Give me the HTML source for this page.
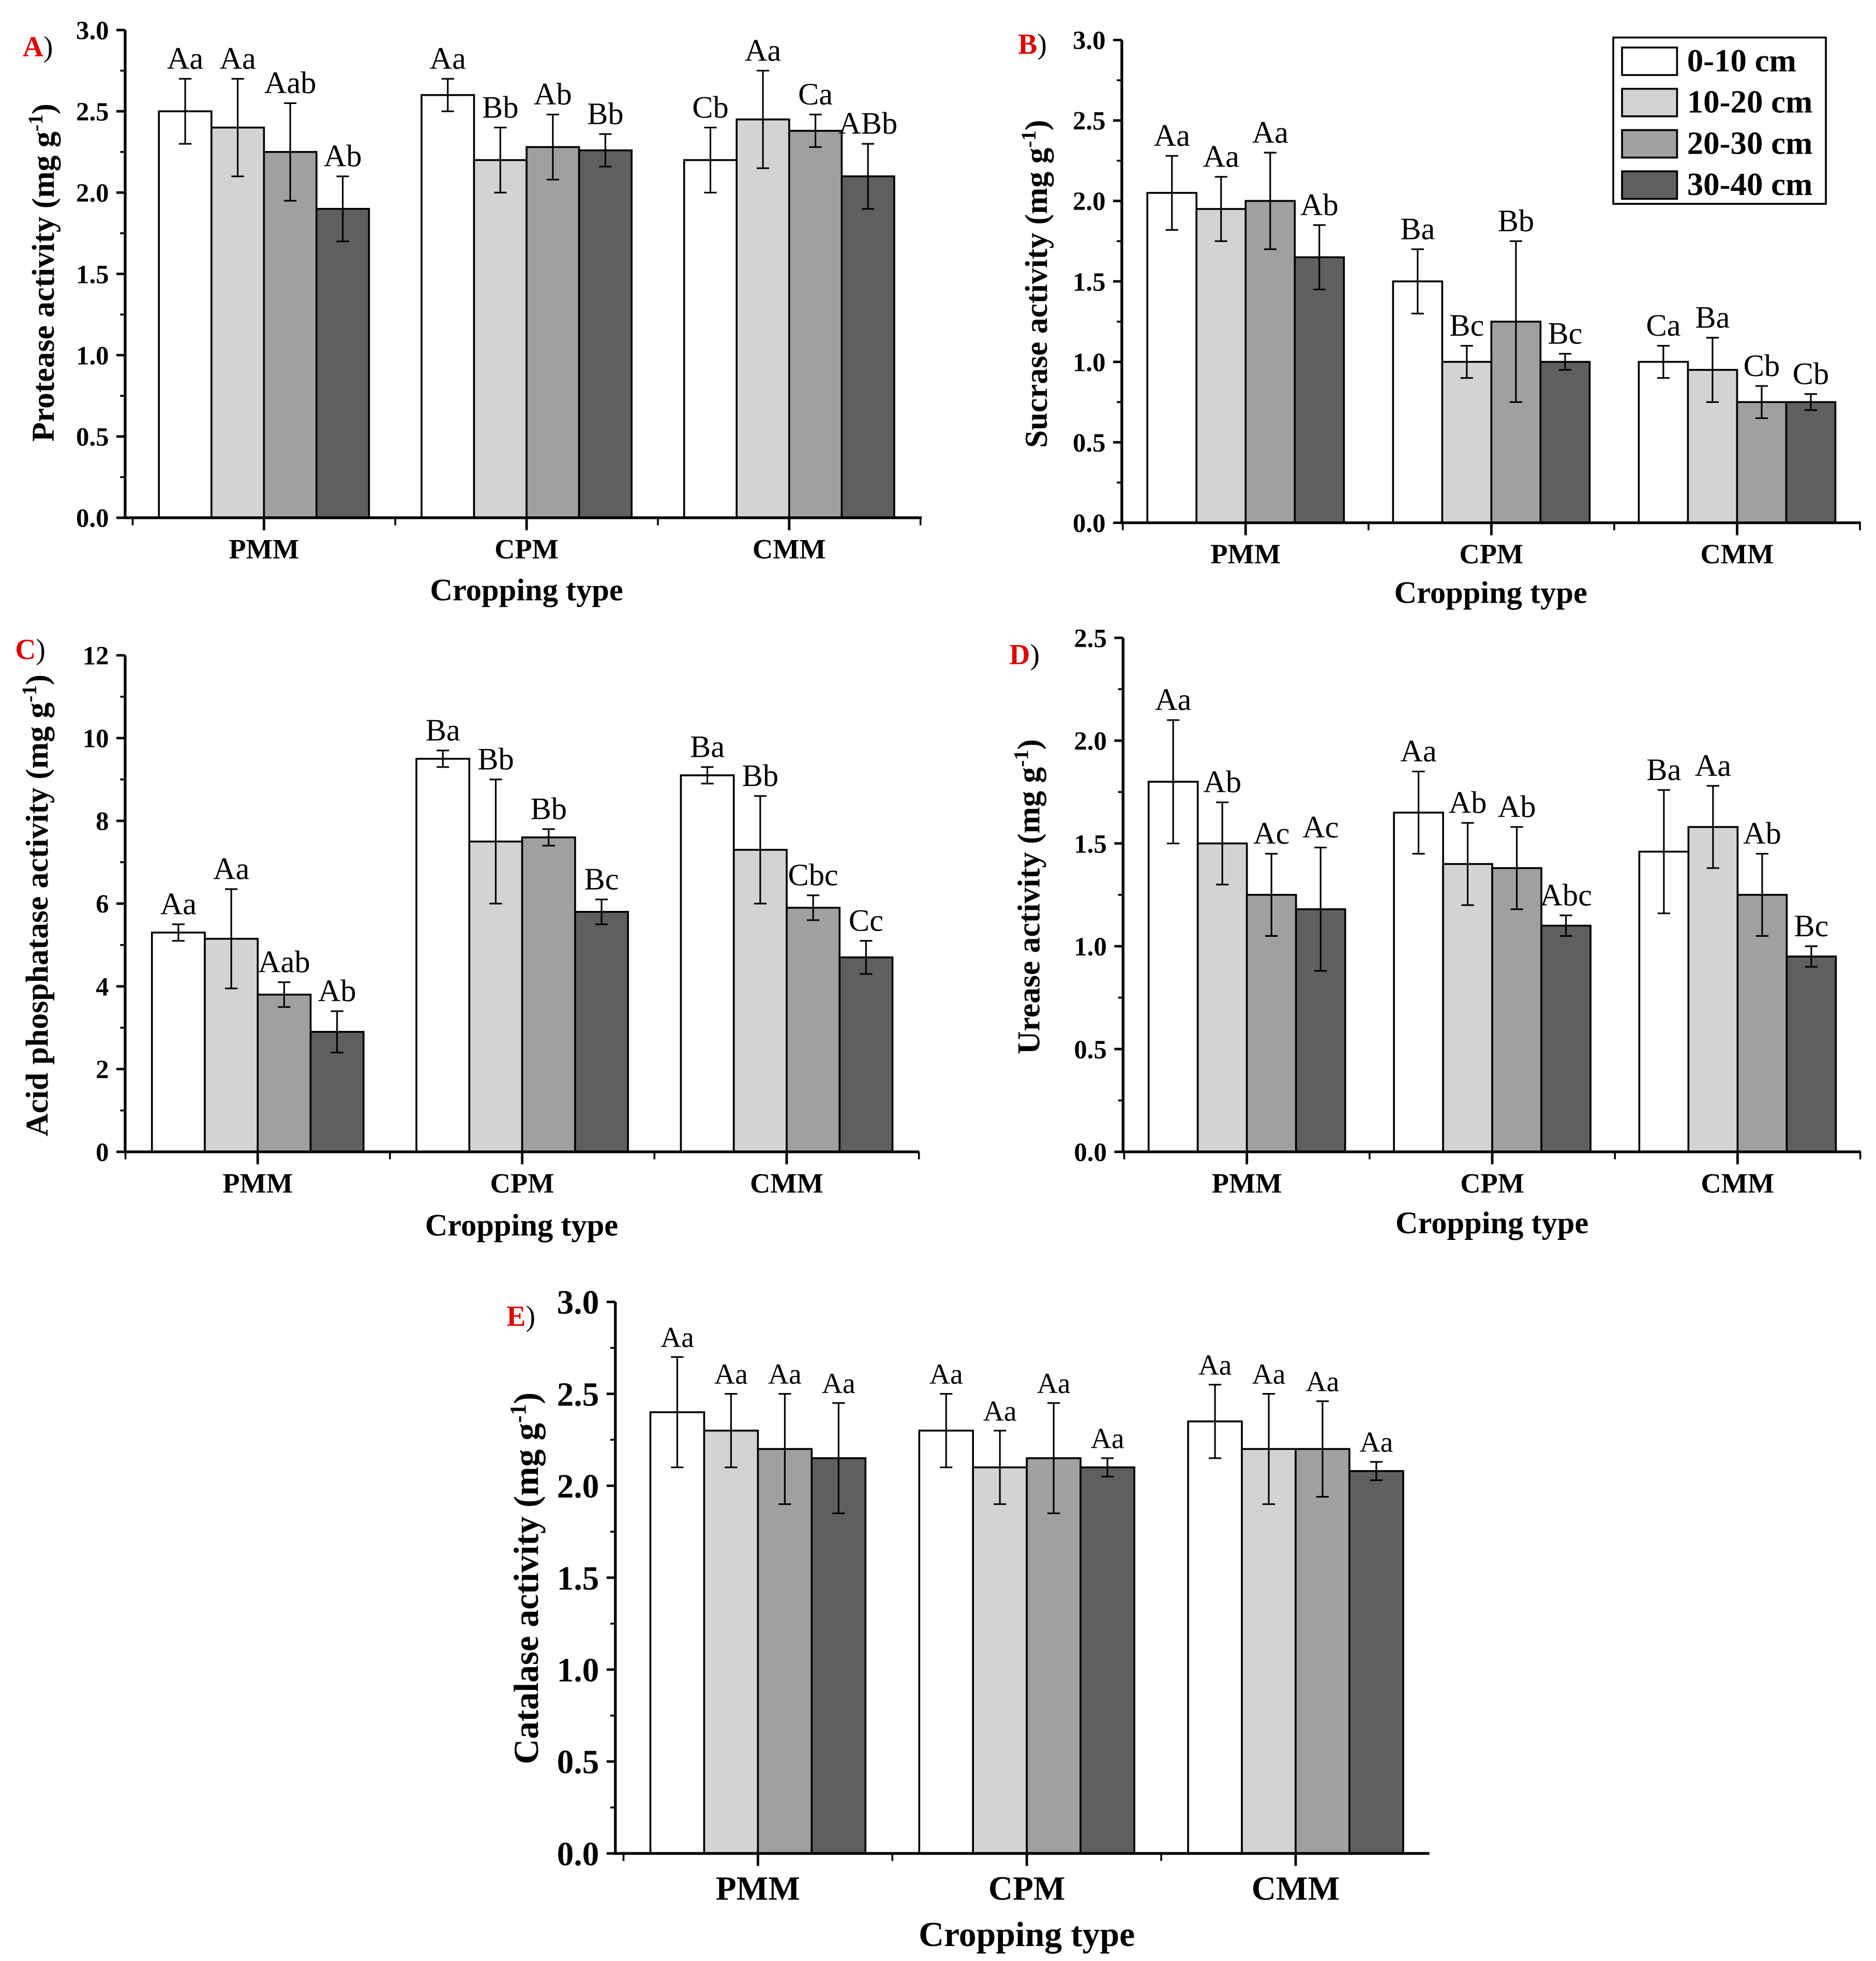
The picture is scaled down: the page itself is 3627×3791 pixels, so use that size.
<!DOCTYPE html>
<html><head><meta charset="utf-8"><title>Soil enzyme activities</title>
<style>
html,body{margin:0;padding:0;background:#fff;}
svg{display:block;font-family:"Liberation Serif",serif;}
</style></head>
<body>
<svg id="fig" xmlns="http://www.w3.org/2000/svg" width="3627" height="3791" viewBox="0 0 1500 1568"></svg>
<script>
const categories = ["PMM","CPM","CMM"];
const depths = ["0-10 cm","10-20 cm","20-30 cm","30-40 cm"];
const colors = ["#ffffff","#d3d3d3","#a0a0a0","#5f5f5f"];

// Panel A - Protease
const protMean = [[2.5,2.4,2.25,1.9],[2.6,2.2,2.28,2.26],[2.2,2.45,2.38,2.1]];
const protErr  = [[0.2,0.3,0.3,0.2],[0.1,0.2,0.2,0.1],[0.2,0.3,0.1,0.2]];
const protLab  = [["Aa","Aa","Aab","Ab"],["Aa","Bb","Ab","Bb"],["Cb","Aa","Ca","ABb"]];
const protTicks = ["0.0","0.5","1.0","1.5","2.0","2.5","3.0"];

// Panel B - Sucrase
const sucMean = [[2.05,1.95,2.0,1.65],[1.5,1.0,1.25,1.0],[1.0,0.95,0.75,0.75]];
const sucErr  = [[0.23,0.2,0.3,0.2],[0.2,0.1,0.5,0.05],[0.1,0.2,0.1,0.05]];
const sucLab  = [["Aa","Aa","Aa","Ab"],["Ba","Bc","Bb","Bc"],["Ca","Ba","Cb","Cb"]];
const sucTicks = ["0.0","0.5","1.0","1.5","2.0","2.5","3.0"];

// Panel C - Acid phosphatase
const phosMean = [[5.3,5.15,3.8,2.9],[9.5,7.5,7.6,5.8],[9.1,7.3,5.9,4.7]];
const phosErr  = [[0.2,1.2,0.3,0.5],[0.2,1.5,0.2,0.3],[0.2,1.3,0.3,0.4]];
const phosLab  = [["Aa","Aa","Aab","Ab"],["Ba","Bb","Bb","Bc"],["Ba","Bb","Cbc","Cc"]];
const phosTicks = ["0","2","4","6","8","10","12"];

// Panel D - Urease
const ureMean = [[1.8,1.5,1.25,1.18],[1.65,1.4,1.38,1.1],[1.46,1.58,1.25,0.95]];
const ureErr  = [[0.3,0.2,0.2,0.3],[0.2,0.2,0.2,0.05],[0.3,0.2,0.2,0.05]];
const ureLab  = [["Aa","Ab","Ac","Ac"],["Aa","Ab","Ab","Abc"],["Ba","Aa","Ab","Bc"]];
const ureTicks = ["0.0","0.5","1.0","1.5","2.0","2.5"];

// Panel E - Catalase
const catMean = [[2.4,2.3,2.2,2.15],[2.3,2.1,2.15,2.1],[2.35,2.2,2.2,2.08]];
const catErr  = [[0.3,0.2,0.3,0.3],[0.2,0.2,0.3,0.05],[0.2,0.3,0.26,0.05]];
const catLab  = [["Aa","Aa","Aa","Aa"],["Aa","Aa","Aa","Aa"],["Aa","Aa","Aa","Aa"]];
const catTicks = ["0.0","0.5","1.0","1.5","2.0","2.5","3.0"];

const NS = "http://www.w3.org/2000/svg";
const svg = document.getElementById("fig");
function mk(tag, attrs, parent){
  const e = document.createElementNS(NS, tag);
  for (const k in attrs) e.setAttribute(k, attrs[k]);
  (parent||svg).appendChild(e);
  return e;
}

function panel(cfg){
  const g = mk("g", {});
  
  
  const ticks = cfg.ticks.map(Number);
  const ymax = ticks[ticks.length-1];
  const y = v => cfg.y0 - (v/ymax)*(cfg.y0 - cfg.yTop);
  const xc = i => cfg.c0 + i*cfg.sp;
  const bw = cfg.bw;
  cfg.mean.forEach((grp, i) => {
    grp.forEach((v, j) => {
      const x = xc(i) - 2*bw + j*bw;
      const r = mk("rect", {x:x, y:y(v), width:bw, height:cfg.y0 - y(v), fill:colors[j], stroke:"#000", "stroke-width":1.5}, g);
      
      
      const cx = x + bw/2, e = cfg.err[i][j];
      const eb = mk("path", {d:`M${cx},${y(v+e)}V${y(v-e)}M${cx-5},${y(v+e)}H${cx+5}M${cx-5},${y(v-e)}H${cx+5}`, stroke:"#000", "stroke-width":1.3, fill:"none"}, g);
      
      
      const t = mk("text", {x:cx, y:y(v+e)-8, "text-anchor":"middle", "font-size":cfg.lfs}, g);
      t.textContent = cfg.lab[i][j];
      
      
    });
  });
  const ax = mk("path", {d:`M${cfg.x0},${cfg.yTop}V${cfg.y0}H${cfg.x1}`, stroke:"#000", "stroke-width":2.2, fill:"none"}, g);
  
  
  ticks.forEach((v, k) => {
    mk("line", {x1:cfg.x0-7, x2:cfg.x0, y1:y(v), y2:y(v), stroke:"#000", "stroke-width":2}, g);
    if (k < ticks.length-1) {
      const m = (v + ticks[k+1])/2;
      mk("line", {x1:cfg.x0-4, x2:cfg.x0, y1:y(m), y2:y(m), stroke:"#000", "stroke-width":1.5}, g);
    }
    const t = mk("text", {x:cfg.x0-13, y:y(v)+cfg.tfs*0.35, "text-anchor":"end", "font-size":cfg.tfs, "font-weight":"bold"}, g);
    t.textContent = cfg.ticks[k];
    
    
  });
  for (let i = 0; i <= 3; i++) {
    const bx = xc(i) - cfg.sp/2;
    if (bx > cfg.x0 && bx < cfg.x1) mk("line", {x1:bx, x2:bx, y1:cfg.y0, y2:cfg.y0+6, stroke:"#000", "stroke-width":1.5}, g);
  }
  categories.forEach((c, i) => {
    mk("line", {x1:xc(i), x2:xc(i), y1:cfg.y0, y2:cfg.y0+10, stroke:"#000", "stroke-width":2}, g);
    const t = mk("text", {x:xc(i), y:cfg.y0+cfg.cfs+10, "text-anchor":"middle", "font-size":cfg.cfs, "font-weight":"bold"}, g);
    t.textContent = c;
    
    
  });
  const xt = mk("text", {x:cfg.xtX, y:cfg.xtY, "text-anchor":"middle", "font-size":cfg.xfs, "font-weight":"bold"}, g);
  xt.textContent = "Cropping type";
  
  
  const yt = mk("text", {x:0, y:0, "text-anchor":"middle", "font-size":cfg.yfs, "font-weight":"bold", transform:`translate(${cfg.ytX},${cfg.ytY}) rotate(-90)`}, g);
  yt.innerHTML = cfg.ytitle + ' (mg g<tspan baseline-shift="super" font-size="' + (cfg.yfs*0.65) + '">-1</tspan>)';
  
  
  const pl = mk("text", {x:cfg.pX, y:cfg.pY, "font-size":23, "font-weight":"bold"}, g);
  pl.innerHTML = '<tspan fill="#e00000">' + cfg.letter + '</tspan><tspan font-weight="normal">)</tspan>';
  
  
}

panel({name:"panel-a-protease", mean:protMean, err:protErr, lab:protLab, ticks:protTicks,
  x0:100, x1:737, y0:414, yTop:24, c0:211, sp:210, bw:42, tfs:21, lfs:25, cfs:22.5, xfs:25, yfs:25.5,
  xtX:421, xtY:480, ytX:43, ytY:218, ytitle:"Protease activity", letter:"A", pX:18, pY:45});
panel({name:"panel-b-sucrase", mean:sucMean, err:sucErr, lab:sucLab, ticks:sucTicks,
  x0:897, x1:1488, y0:418, yTop:32, c0:996, sp:196.5, bw:39.3, tfs:21, lfs:25, cfs:22.5, xfs:25, yfs:25.5,
  xtX:1192, xtY:482, ytX:837, ytY:227, ytitle:"Sucrase activity", letter:"B", pX:814, pY:43});
panel({name:"panel-c-acid-phosphatase", mean:phosMean, err:phosErr, lab:phosLab, ticks:phosTicks,
  x0:100, x1:735, y0:921, yTop:524, c0:206, sp:211.5, bw:42.3, tfs:21, lfs:25, cfs:22.5, xfs:25, yfs:25.5,
  xtX:417, xtY:988, ytX:38, ytY:724, ytitle:"Acid phosphatase activity", letter:"C", pX:12, pY:527});
panel({name:"panel-d-urease", mean:ureMean, err:ureErr, lab:ureLab, ticks:ureTicks,
  x0:898, x1:1488, y0:921, yTop:510, c0:997, sp:196.2, bw:39.3, tfs:21, lfs:25, cfs:22.5, xfs:25, yfs:25.5,
  xtX:1193, xtY:986, ytX:831, ytY:717, ytitle:"Urease activity", letter:"D", pX:807, pY:531});
panel({name:"panel-e-catalase", mean:catMean, err:catErr, lab:catLab, ticks:catTicks,
  x0:492, x1:1143, y0:1482, yTop:1041, c0:606, sp:215, bw:43, tfs:27, lfs:23, cfs:27, xfs:28, yfs:28,
  xtX:821, xtY:1556, ytX:430, ytY:1262, ytitle:"Catalase activity", letter:"E", pX:405, pY:1060});

const lg = mk("g", {});


mk("rect", {x:1290, y:30, width:170, height:133, fill:"#fff", stroke:"#000", "stroke-width":1.5}, lg);
depths.forEach((d, j) => {
  const yy = 49 + j*33;
  const sw = mk("rect", {x:1297, y:yy-11, width:44, height:22, fill:colors[j], stroke:"#000", "stroke-width":1.5}, lg);
  
  
  const t = mk("text", {x:1349, y:yy+8, "font-size":26, "font-weight":"bold"}, lg);
  t.textContent = d;
  
  
});
</script>
</body></html>
